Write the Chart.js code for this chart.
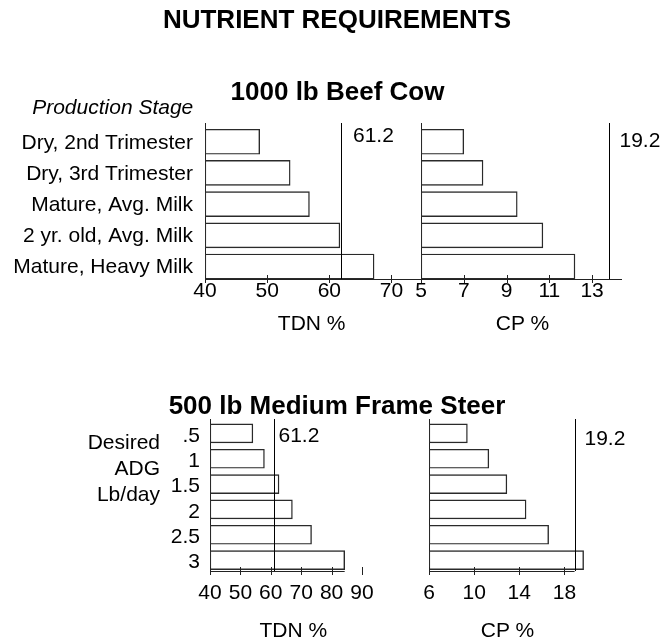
<!DOCTYPE html>
<html>
<head>
<meta charset="utf-8">
<script src="https://cdn.jsdelivr.net/npm/chart.js@4"></script>
<style>
body { margin: 0; background: #fff; }
#wrap { position: relative; width: 671px; height: 643px; font-family: "Liberation Sans", Arial, sans-serif; color: #000; }
#wrap canvas { position: absolute; left: 0; top: 0; }
.t { position: absolute; white-space: nowrap; line-height: 1; }
.bold { font-weight: bold; font-size: 26px; }
.reg { font-size: 21px; }
.c { transform: translateX(-50%); }
.r { transform: translateX(-100%); }
</style>
</head>
<body>
<div id="wrap">
  <canvas id="cowTdnChart" width="671" height="643"></canvas>
  <canvas id="cowCpChart" width="671" height="643"></canvas>
  <canvas id="steerTdnChart" width="671" height="643"></canvas>
  <canvas id="steerCpChart" width="671" height="643"></canvas>

  <div class="t bold c" style="left:337px;top:6px">NUTRIENT REQUIREMENTS</div>
  <div class="t bold c" style="left:337.5px;top:78.3px">1000 lb Beef Cow</div>
  <div class="t reg r" style="left:193.3px;top:95.6px;font-style:italic">Production Stage</div>
  <div class="t reg c" style="left:311.7px;top:312.3px">TDN %</div>
  <div class="t reg c" style="left:522.5px;top:312.3px">CP %</div>

  <div class="t bold c" style="left:337px;top:391.6px">500 lb Medium Frame Steer</div>
  <div class="t reg r" style="left:160px;top:430.6px">Desired</div>
  <div class="t reg r" style="left:160px;top:457.3px">ADG</div>
  <div class="t reg r" style="left:160px;top:483.3px">Lb/day</div>
  <div class="t reg c" style="left:293.3px;top:619px">TDN %</div>
  <div class="t reg c" style="left:507.5px;top:619px">CP %</div>
</div>

<script>
// 1000 lb beef cow
const cowStages = ['Dry, 2nd Trimester', 'Dry, 3rd Trimester', 'Mature, Avg. Milk', '2 yr. old, Avg. Milk', 'Mature, Heavy Milk'];
const cowTdn = [48.8, 53.7, 56.8, 61.7, 67.2];
const cowCp = [7.0, 7.9, 9.5, 10.7, 12.2];
const cowTdnTicks = [40, 50, 60, 70];
const cowCpTicks = [5, 7, 9, 11, 13];

// 500 lb medium frame steer
const steerAdg = ['.5', '1', '1.5', '2', '2.5', '3'];
const steerTdn = [54.1, 57.9, 62.7, 67.1, 73.4, 84.3];
const steerCp = [9.4, 11.3, 12.9, 14.6, 16.6, 19.7];
const steerTdnTicks = [40, 50, 60, 70, 80, 90];
const steerCpTicks = [6, 10, 14, 18];

// reference lines: where they sit on each axis, and what they say
const cowTdnLine = 61.8;
const cowCpLine = 13.8;
const steerTdnLine = 61.2;
const steerCpLine = 18.9;
const tdnLineLabel = '61.2';
const cpLineLabel = '19.2';

const FONT = '"Liberation Sans", Arial, sans-serif';
const INK = '#222';

// x axis line, tick marks crossing it, and the reference line with its label
const refMarks = {
    id: 'refMarks',
    afterDatasetsDraw(chart, args, o) {
        const { ctx, chartArea: a } = chart;
        const x = chart.scales.x;
        ctx.save();
        ctx.strokeStyle = INK;
        ctx.lineWidth = 1;
        ctx.beginPath();
        const end = o.axisEnd == null ? a.right : x.getPixelForValue(o.axisEnd);
        ctx.moveTo(a.left, a.bottom + 0.5);
        ctx.lineTo(end, a.bottom + 0.5);
        x.ticks.forEach(t => {
            const px = Math.round(x.getPixelForValue(t.value)) + 0.5;
            ctx.moveTo(px, a.bottom - 4);
            ctx.lineTo(px, a.bottom + 4);
        });
        ctx.stroke();

        const lx = Math.round(x.getPixelForValue(o.line)) + 0.5;
        ctx.strokeStyle = '#000';
        ctx.beginPath();
        ctx.moveTo(lx, a.top);
        ctx.lineTo(lx, a.bottom);
        ctx.stroke();

        ctx.fillStyle = '#000';
        ctx.font = '21px ' + FONT;
        ctx.textBaseline = 'alphabetic';
        ctx.textAlign = 'left';
        ctx.fillText(o.label, lx + o.dx, a.top + o.dy);
        ctx.restore();
    }
};

function drawPanel(id, cats, values, tickVals, box, xs, marks) {
    const ctx = document.getElementById(id).getContext('2d');
    return new Chart(ctx, {
        type: 'bar',
        data: {
            datasets: [{
                data: values.map((v, i) => ({ x: v, y: i })),
                base: xs.min,
                backgroundColor: '#fff',
                borderColor: '#2a2a2a',
                borderWidth: 1.4,
                borderSkipped: false,
                barThickness: box.bar
            }]
        },
        options: {
            indexAxis: 'y',
            responsive: false,
            animation: false,
            events: [],
            layout: {
                padding: {
                    left: box.showCats ? 0 : box.left,
                    top: box.top,
                    right: 671 - box.right,
                    bottom: 0
                }
            },
            plugins: { legend: { display: false }, tooltip: { enabled: false }, refMarks: marks },
            scales: {
                x: {
                    type: 'linear',
                    min: xs.min,
                    max: xs.max,
                    grid: { display: false, drawTicks: false },
                    border: { display: false },
                    ticks: {
                        autoSkip: false,
                        maxRotation: 0,
                        padding: xs.pad,
                        color: '#000',
                        font: { family: FONT, size: 21 }
                    },
                    afterBuildTicks: s => { s.ticks = tickVals.map(v => ({ value: v })); },
                    afterFit: s => { s.height = 643 - box.bottom; }
                },
                y: {
                    type: 'linear',
                    reverse: true,
                    offset: false,
                    min: -box.shift,
                    max: cats.length - box.shift,
                    grid: { display: false, drawTicks: false, offset: false },
                    border: { display: true, color: INK, width: 1 },
                    ticks: {
                        display: box.showCats,
                        autoSkip: false,
                        padding: box.catPad,
                        labelOffset: box.catShift,
                        color: '#000',
                        font: { family: FONT, size: 21 },
                        callback: v => cats[v]
                    },
                    afterBuildTicks: s => { s.ticks = cats.map((c, i) => ({ value: i })); },
                    afterFit: s => { s.width = box.showCats ? box.left : 0; }
                }
            }
        },
        plugins: [refMarks]
    });
}

drawPanel('cowTdnChart', cowStages, cowTdn, cowTdnTicks,
    { left: 205, right: 421, top: 123, bottom: 279, bar: 25, shift: 0.6, showCats: true, catPad: 12, catShift: 1 },
    { min: 40, max: 74.75, pad: 0 },
    { line: cowTdnLine, label: tdnLineLabel, dx: 11.5, dy: 18.7, axisEnd: null });

drawPanel('cowCpChart', cowStages, cowCp, cowCpTicks,
    { left: 421, right: 622, top: 123, bottom: 279, bar: 25, shift: 0.6, showCats: false, catPad: 0, catShift: 0 },
    { min: 5, max: 14.4, pad: 0 },
    { line: cowCpLine, label: cpLineLabel, dx: 10, dy: 23.7, axisEnd: null });

drawPanel('steerTdnChart', steerAdg, steerTdn, steerTdnTicks,
    { left: 210, right: 362, top: 419, bottom: 571, bar: 19, shift: 0.57, showCats: true, catPad: 10, catShift: 2.5 },
    { min: 40, max: 90, pad: 10 },
    { line: steerTdnLine, label: tdnLineLabel, dx: 4, dy: 22.7, axisEnd: 84.3 });

drawPanel('steerCpChart', steerAdg, steerCp, steerCpTicks,
    { left: 429, right: 587, top: 419, bottom: 571, bar: 19, shift: 0.57, showCats: false, catPad: 0, catShift: 0 },
    { min: 6, max: 20, pad: 10 },
    { line: steerCpLine, label: cpLineLabel, dx: 9, dy: 26, axisEnd: 18.9 });
</script>
</body>
</html>
